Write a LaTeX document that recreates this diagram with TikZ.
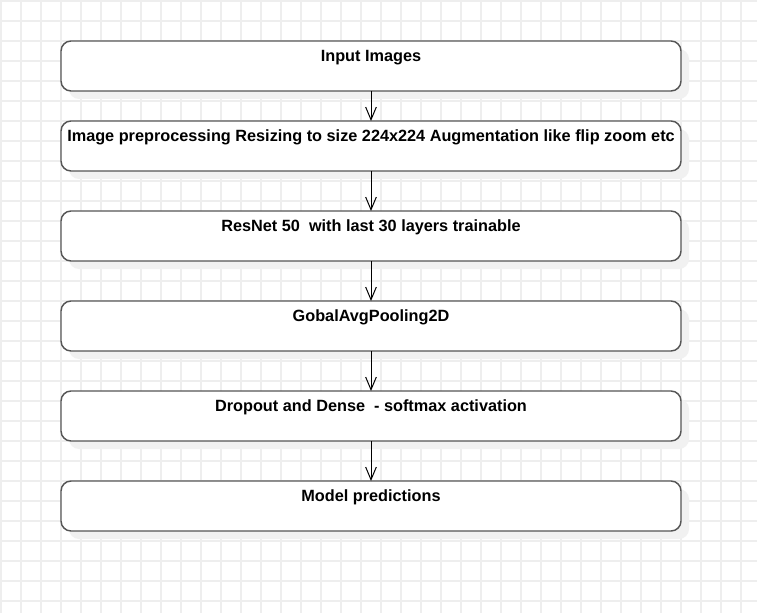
\documentclass[tikz,border=0pt]{standalone}
\usepackage{fontspec}
\setmainfont{Liberation Sans}
\usetikzlibrary{arrows.meta}
\definecolor{gridc}{RGB}{238,238,238}
\definecolor{shadowc}{RGB}{241,241,241}
\definecolor{borderc}{RGB}{85,85,85}
\tikzset{
  stepbox/.style={draw=borderc, line width=1.1pt, rounded corners=7.5pt, fill=white,
    minimum width=465pt, minimum height=37.5pt, inner sep=0pt, outer sep=0pt},
  boxshadow/.style={fill=shadowc, rounded corners=7.5pt},
  boxtext/.style={font=\bfseries\fontsize{12.2pt}{14pt}\selectfont, inner sep=0pt, anchor=base},
  flow/.style={draw=black, line width=0.75pt, -{Straight Barb[length=9.5pt,width=8pt,line width=0.75pt]}}
}
\begin{document}
\begin{tikzpicture}[x=0.75pt,y=-0.75pt]
\useasboundingbox (0,0) rectangle (757,613);
\fill[white] (0,0) rectangle (757,613);
\foreach \g in {1,21,...,757} {\draw[gridc, line width=1.1pt] (\g,0) -- (\g,613);}
\foreach \g in {1,21,...,613} {\draw[gridc, line width=1.1pt] (0,\g) -- (757,\g);}
\foreach \t/\n/\s in {41/b1/Input Images,
  121/b2/Image preprocessing Resizing to size 224x224 Augmentation like flip zoom etc,
  211/b3/ResNet 50\ \ with last 30 layers trainable,
  301/b4/GobalAvgPooling2D,
  391/b5/Dropout and Dense\ \ - softmax activation,
  481/b6/Model predictions} {
  \fill[boxshadow] (69,\t+8) rectangle (689,\t+58);
  \node[stepbox, anchor=north west] (\n) at (61,\t) {};
  \node[boxtext] (\n t) at (371,\t+20.5) {\s};
}
\draw[flow] (b1) -- (b2);
\draw[flow] (b2) -- (b3);
\draw[flow] (b3) -- (b4);
\draw[flow] (b4) -- (b5);
\draw[flow] (b5) -- (b6);
\end{tikzpicture}
\end{document}
